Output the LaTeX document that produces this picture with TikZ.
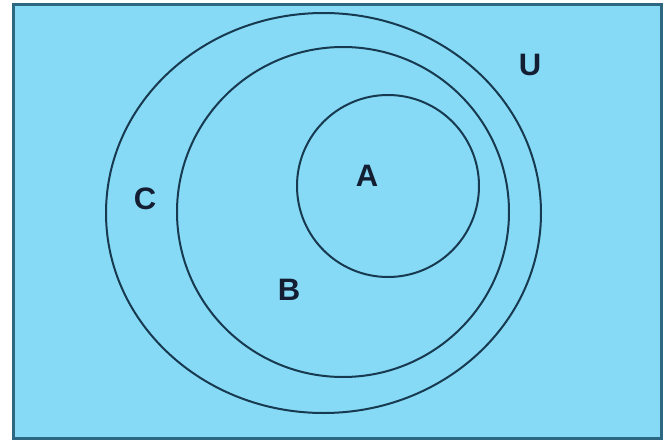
\documentclass[tikz,border=0pt]{standalone}
\usepackage{fontspec}
\setmainfont{Liberation Sans}
\definecolor{bgblue}{RGB}{134,218,246}
\definecolor{framec}{RGB}{44,104,130}
\definecolor{linec}{RGB}{24,58,80}
\definecolor{textc}{RGB}{20,30,50}
\tikzset{
  setline/.style={draw=linec, line width=2pt},
  setlabel/.style={font=\fontsize{31}{31}\selectfont\bfseries, text=textc, inner sep=0pt}
}
\begin{document}
\begin{tikzpicture}[x=1pt,y=-1pt]
\useasboundingbox (0,0) rectangle (667,442);
\fill[white] (0,0) rectangle (667,442);
\draw[fill=bgblue, draw=framec, line width=3pt] (13.5,4) rectangle (661.5,438.5);
\draw[setline] (323.5,213) ellipse [x radius=217.5, y radius=200];
\draw[setline] (343,212) ellipse [x radius=166, y radius=165];
\draw[setline] (388,186) ellipse [x radius=91, y radius=91];
\node[setlabel] (U) at (530,64.5) {U};
\node[setlabel] (C) at (145,199) {C};
\node[setlabel] (A) at (367,175.5) {A};
\node[setlabel] (B) at (289,290) {B};
\end{tikzpicture}
\end{document}
